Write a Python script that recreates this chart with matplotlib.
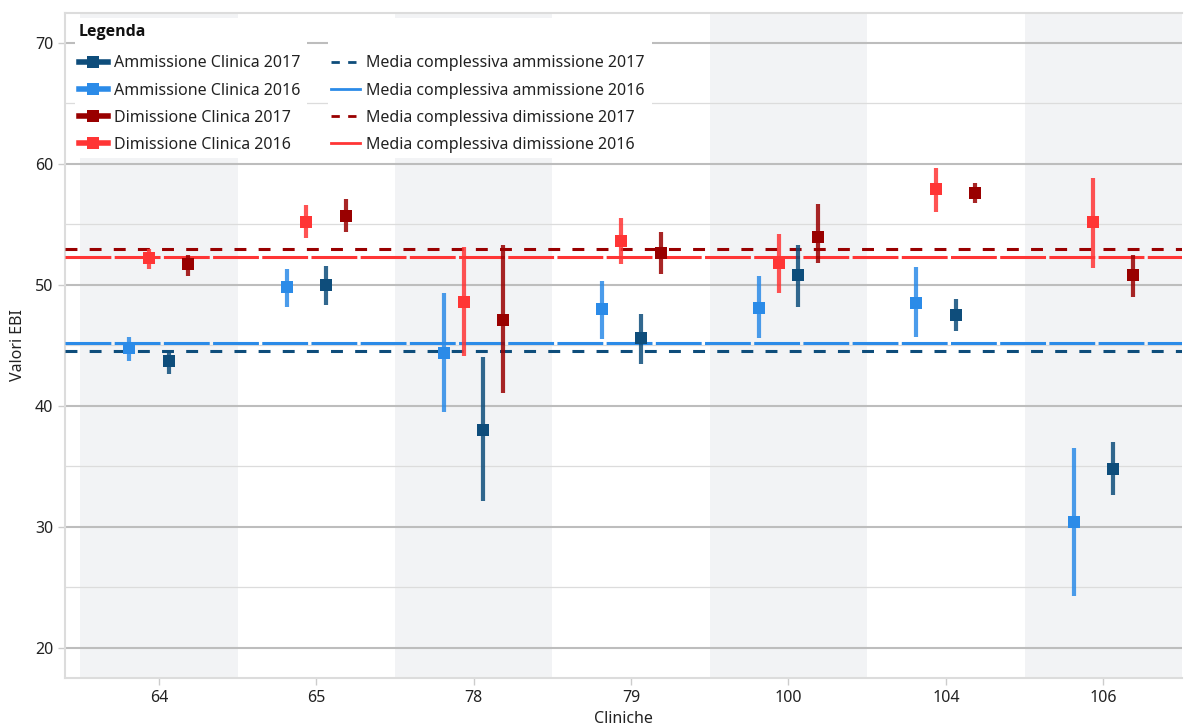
import matplotlib
matplotlib.use("Agg")
import matplotlib.pyplot as plt
from matplotlib.lines import Line2D
from matplotlib.patches import Rectangle
from matplotlib import font_manager
import numpy as np

plt.rcParams['font.family'] = ['Noto Sans', 'DejaVu Sans']

cliniche = ["64", "65", "78", "79", "100", "104", "106"]

amm_2016 = [44.8, 49.8, 44.4, 48.0, 48.1, 48.5, 30.4]
amm_2016_lo = [43.7, 48.2, 39.5, 45.5, 45.6, 45.7, 24.3]
amm_2016_hi = [45.7, 51.3, 49.3, 50.3, 50.7, 51.5, 36.5]

dim_2016 = [52.2, 55.2, 48.6, 53.6, 51.8, 57.9, 55.2]
dim_2016_lo = [51.3, 53.9, 44.1, 51.7, 49.3, 56.0, 51.4]
dim_2016_hi = [53.0, 56.6, 53.1, 55.5, 54.2, 59.7, 58.8]

amm_2017 = [43.7, 50.0, 38.0, 45.6, 50.8, 47.5, 34.8]
amm_2017_lo = [42.6, 48.3, 32.1, 43.5, 48.2, 46.2, 32.6]
amm_2017_hi = [44.6, 51.6, 44.0, 47.6, 53.3, 48.8, 37.0]

dim_2017 = [51.7, 55.7, 47.1, 52.6, 54.0, 57.6, 50.8]
dim_2017_lo = [50.7, 54.4, 41.1, 50.9, 51.8, 56.8, 49.0]
dim_2017_hi = [52.5, 57.1, 53.3, 54.4, 56.7, 58.4, 52.5]

media_amm_2017 = 44.57
media_amm_2016 = 45.21
media_dim_2017 = 52.98
media_dim_2016 = 52.34

C_AMM17 = "#0e4d7b"
C_AMM16 = "#2b8be8"
C_DIM17 = "#990000"
C_DIM16 = "#ff3535"

# pick a family that really has a bold face for the legend title
bold_family = "DejaVu Sans"
for fam in ["Noto Sans", "Open Sans", "Lato", "Roboto"]:
    try:
        fp = font_manager.findfont(font_manager.FontProperties(family=fam, weight="bold"),
                                   fallback_to_default=False)
        if "bold" in fp.lower() or "Bold" in fp:
            bold_family = fam
            break
    except Exception:
        pass

W, H = 1184, 727
L, R, T, B = 65, 1182, 13, 678
fig = plt.figure(figsize=(W / 100, H / 100), dpi=100)
ax = fig.add_axes([L / W, (H - B) / H, (R - L) / W, (B - T) / H])

x = np.arange(len(cliniche))
ax.set_xlim(-0.596, 6.5)
ax.set_ylim(17.5, 72.48)

# alternating bands
for i in range(0, len(cliniche), 2):
    ax.axvspan(i - 0.5, i + 0.5, color="#f2f3f5", zorder=0, lw=0)

# grid
for v in range(20, 75, 10):
    ax.axhline(v, color="#bdbdbd", lw=1.5, zorder=1)
for v in range(25, 75, 10):
    ax.axhline(v, color="#dcdcdc", lw=0.9, zorder=1)

def px_to_axes(px_x, px_y):
    return (px_x - L) / (R - L), (B - px_y) / (B - T)

# legend background boxes (one per column)
for x0, x1 in [(75, 307), (328, 652)]:
    ax0, ay0 = px_to_axes(x0, 158)
    ax1, ay1 = px_to_axes(x1, 18)
    ax.add_patch(Rectangle((ax0, ay0), ax1 - ax0, ay1 - ay0, transform=ax.transAxes,
                           facecolor="white", edgecolor="none", zorder=2))

# mean lines
lw_m = 2.2
ax.axhline(media_dim_2017, color=C_DIM17, lw=lw_m, ls=(0, (3.9, 4.0)), zorder=3)
ax.axhline(media_dim_2016, color=C_DIM16, lw=lw_m, ls=(0, (15.0, 1.1)), zorder=3)
ax.axhline(media_amm_2016, color=C_AMM16, lw=lw_m, ls=(0, (15.0, 1.1)), zorder=3)
ax.axhline(media_amm_2017, color=C_AMM17, lw=lw_m, ls=(0, (3.9, 4.0)), zorder=3)

series = [
    (amm_2016, amm_2016_lo, amm_2016_hi, C_AMM16, -0.1875),
    (dim_2016, dim_2016_lo, dim_2016_hi, C_DIM16, -0.0625),
    (amm_2017, amm_2017_lo, amm_2017_hi, C_AMM17, 0.0625),
    (dim_2017, dim_2017_lo, dim_2017_hi, C_DIM17, 0.1875),
]
for vals, lo, hi, col, off in series:
    vals = np.array(vals); lo = np.array(lo); hi = np.array(hi)
    ax.vlines(x + off, lo, hi, color=col, lw=3.0, alpha=0.85, zorder=4)
    ax.plot(x + off, vals, ls="none", marker="s", ms=9, color=col,
            mec=col, mew=0, zorder=5)

ax.set_xticks(x)
ax.set_xticklabels(cliniche, fontsize=11.5)
ax.set_yticks(range(20, 75, 10))
ax.set_yticklabels([str(v) for v in range(20, 75, 10)], fontsize=11.5)
ax.tick_params(axis="both", colors="#cccccc", labelcolor="#222222", length=5, width=1)
ax.set_xlabel("Cliniche", fontsize=11.5, color="#222222", labelpad=4)
ax.set_ylabel("Valori EBI", fontsize=11.5, color="#222222", labelpad=6)

ax.spines["right"].set_visible(False)
for s in ["left", "bottom", "top"]:
    ax.spines[s].set_color("#dcdcdc")
    ax.spines[s].set_linewidth(1.5)

handles = [
    Line2D([], [], color=C_AMM17, lw=4, marker="s", ms=9, mew=0),
    Line2D([], [], color=C_AMM16, lw=4, marker="s", ms=9, mew=0),
    Line2D([], [], color=C_DIM17, lw=4, marker="s", ms=9, mew=0),
    Line2D([], [], color=C_DIM16, lw=4, marker="s", ms=9, mew=0),
    Line2D([], [], color=C_AMM17, lw=2, ls=(0, (3, 3))),
    Line2D([], [], color=C_AMM16, lw=2),
    Line2D([], [], color=C_DIM17, lw=2, ls=(0, (3, 3))),
    Line2D([], [], color=C_DIM16, lw=2),
]
labels = [
    "Ammissione Clinica 2017",
    "Ammissione Clinica 2016",
    "Dimissione Clinica 2017",
    "Dimissione Clinica 2016",
    "Media complessiva ammissione 2017",
    "Media complessiva ammissione 2016",
    "Media complessiva dimissione 2017",
    "Media complessiva dimissione 2016",
]
anc = px_to_axes(75, 20)
leg = ax.legend(handles, labels, ncol=2, loc="upper left", bbox_to_anchor=anc,
                borderaxespad=0.0, frameon=False, fontsize=11.5,
                title="Legenda", alignment="left",
                title_fontproperties={"family": bold_family, "weight": "bold", "size": 11.5},
                handlelength=1.8, columnspacing=1.9, labelspacing=0.7,
                borderpad=0.25, handletextpad=0.4)
leg._legend_box.sep = 0.7 * 11.5 + 3.0
leg.set_zorder(10)
for t in leg.get_texts():
    t.set_color("#222222")
leg.get_title().set_color("#111111")

fig.savefig("out.png", dpi=100)
